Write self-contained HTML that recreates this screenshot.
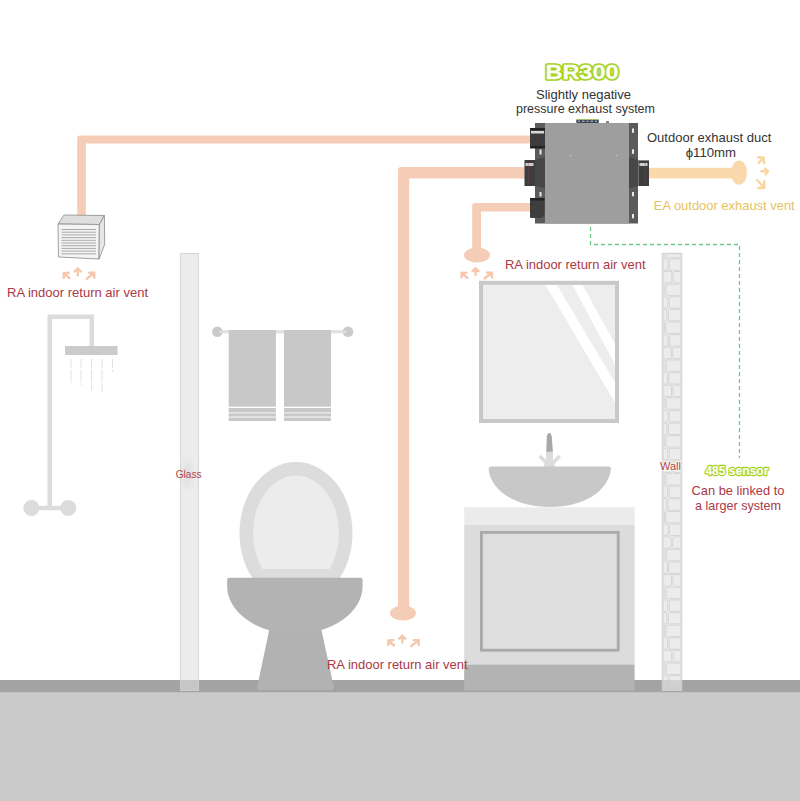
<!DOCTYPE html>
<html><head><meta charset="utf-8">
<style>
html,body{margin:0;padding:0;background:#fff;}
svg{display:block;}
text{font-family:"Liberation Sans",sans-serif;}
</style></head>
<body>
<svg width="800" height="801" viewBox="0 0 800 801">
<rect x="0" y="0" width="800" height="801" fill="#ffffff"/>
<!-- floor -->
<rect x="0" y="680" width="800" height="12.7" fill="#a3a3a3"/>
<rect x="0" y="692.7" width="800" height="108.3" fill="#c9cac9"/>

<!-- shower -->
<path d="M49.75 508 V316.75 H91.75 V346" fill="none" stroke="#dcdcdc" stroke-width="4.5"/>
<rect x="65" y="346" width="52.5" height="9" fill="#cbcbcb"/>
<g stroke="#e2e2e2" stroke-width="1" stroke-dasharray="9 1.5 12 1.5">
<line x1="71" y1="359" x2="71" y2="384"/>
<line x1="81" y1="359" x2="81" y2="385"/>
<line x1="91.5" y1="359" x2="91.5" y2="390"/>
<line x1="102" y1="359" x2="102" y2="392"/>
<line x1="112.5" y1="359" x2="112.5" y2="372"/>
</g>
<rect x="31" y="505.75" width="37" height="4.5" fill="#dcdcdc"/>
<circle cx="31.4" cy="508" r="8" fill="#dcdcdc"/>
<circle cx="68.3" cy="508" r="8" fill="#dcdcdc"/>

<!-- glass panel -->
<defs><radialGradient id="gsh" cx="0.5" cy="0.5" r="0.5"><stop offset="0" stop-color="#d8d8d8" stop-opacity="0.7"/><stop offset="1" stop-color="#d8d8d8" stop-opacity="0"/></radialGradient></defs>
<rect x="180.5" y="253.5" width="18" height="437" fill="#ebecec" stroke="#d6d6d6" stroke-width="1"/>
<ellipse cx="187" cy="474" rx="9" ry="18" fill="url(#gsh)"/>
<rect x="180.5" y="680" width="18" height="10.5" fill="#c6c6c6"/>

<!-- towel bar -->
<rect x="217" y="330.3" width="131" height="3" fill="#dcdcdc"/>
<circle cx="217.3" cy="331.8" r="5.3" fill="#cacaca"/>
<circle cx="348" cy="331.8" r="5.3" fill="#cacaca"/>
<rect x="219" y="330.8" width="127" height="2" fill="#e2e2e2"/>
<rect x="228.7" y="412" width="47.2" height="6" fill="#e4e4e4"/>
<rect x="284" y="412" width="47" height="6" fill="#e4e4e4"/>
<g fill="#c8c8c9">
<rect x="228.7" y="330" width="47.2" height="76.7"/>
<rect x="228.7" y="408" width="47.2" height="4"/>
<rect x="228.7" y="413.7" width="47.2" height="2.5"/>
<rect x="228.7" y="418" width="47.2" height="3"/>
<rect x="284" y="330" width="47" height="76.7"/>
<rect x="284" y="408" width="47" height="4"/>
<rect x="284" y="413.7" width="47" height="2.5"/>
<rect x="284" y="418" width="47" height="3"/>
</g>

<!-- toilet -->
<ellipse cx="296" cy="533" rx="56.5" ry="71" fill="#dcdcdc"/>
<clipPath id="lidclip"><rect x="240" y="460" width="120" height="109"/></clipPath>
<ellipse cx="296" cy="533" rx="43" ry="57.5" fill="#ececec" clip-path="url(#lidclip)"/>
<path d="M270 626 L320.6 626 L333.6 686 Q334.4 690.3 330.5 690.3 L260.5 690.3 Q256.6 690.3 257.4 686 Z" fill="#b2b2b2"/>
<path d="M227.1 586 A67.75 47.9 0 0 0 362.6 586 V580 Q362.6 577.8 360.4 577.8 H229.3 Q227.1 577.8 227.1 580 Z" fill="#b3b3b3"/>

<!-- big pipe (bottom RA) -->
<path d="M398 613 V170 Q398 167 401 167 H530 V178.6 H409.2 V613 Z" fill="#f5cdb6"/>
<ellipse cx="403" cy="613" rx="13" ry="7.5" fill="#f5cdb6"/>
<!-- left pipe -->
<path d="M77.2 217 V138.3 Q77.2 135.5 80 135.5 H531 V143.5 H85.8 V217 Q81.5 219 77.2 217 Z" fill="#f5cdb6"/>
<!-- small pipe -->
<path d="M472.2 255 V205.8 Q472.2 203 475 203 H531 V211.5 H481 V255 Z" fill="#f5cdb6"/>
<ellipse cx="477" cy="255" rx="13" ry="7.5" fill="#f5cdb6"/>
<!-- EA pipe -->
<rect x="645" y="167.8" width="94" height="10.6" fill="#f9d9ab"/>
<ellipse cx="739" cy="172.6" rx="8" ry="12.2" fill="#f9d9ab"/>

<!-- vent box -->
<polygon points="64,215 104.4,215.5 99.4,224.5 58,224" fill="#dedede" stroke="#8a8a8a" stroke-width="0.8"/>
<polygon points="58,224 99.4,224.5 99,259 58.5,257" fill="#f4f4f4" stroke="#8a8a8a" stroke-width="0.8"/>
<polygon points="99.4,224.5 104.4,215.5 104.7,244.5 99,259" fill="#e6e6e6" stroke="#8a8a8a" stroke-width="0.8"/>
<g stroke="#a8a8a8" stroke-width="1">
<line x1="61.5" y1="229.5" x2="96" y2="229.5"/>
<line x1="61.5" y1="232.2" x2="96" y2="232.2"/>
<line x1="61.5" y1="234.9" x2="96" y2="234.9"/>
<line x1="61.5" y1="237.6" x2="96" y2="237.6"/>
<line x1="61.5" y1="240.3" x2="96" y2="240.3"/>
<line x1="61.5" y1="243" x2="96" y2="243"/>
<line x1="61.5" y1="245.7" x2="96" y2="245.7"/>
<line x1="61.5" y1="248.4" x2="96" y2="248.4"/>
<line x1="61.5" y1="251.1" x2="96" y2="251.1"/>
<line x1="61.5" y1="253.8" x2="96" y2="253.8"/>
</g>

<!-- mirror -->
<rect x="481" y="282.8" width="136" height="138.2" fill="#ededed" stroke="#c8c8c8" stroke-width="4"/>
<polygon points="545.5,285 557,285 615,382.5 615,402.8" fill="#ffffff"/>
<polygon points="572.5,285 582.6,285 615,344 615,364.5" fill="#ffffff"/>

<!-- faucet -->
<line x1="539.8" y1="456" x2="546.5" y2="463" stroke="#dcdcdc" stroke-width="3.4"/>
<line x1="559.8" y1="456" x2="553" y2="463" stroke="#dcdcdc" stroke-width="3.4"/>
<polygon points="546,451.5 553,451.5 553,461 555.5,467 543.5,467 546,461" fill="#dcdcdc"/>
<path d="M546.2 451.7 L546.9 436 Q549.3 429.5 551.7 436 L552.9 451.7 Z" fill="#a8a8a8"/>
<!-- basin -->
<path d="M491 466.5 H609 Q611 466.5 611 469 C608 492 583 507 550 507 C517 507 491 492 488.6 469 Q488.6 466.5 491 466.5 Z" fill="#c8c8c8"/>
<!-- cabinet -->
<rect x="464.2" y="507.3" width="170.4" height="17.5" fill="#ebebeb"/>
<rect x="464.2" y="524.8" width="170.4" height="139.7" fill="#dcdcdc"/>
<rect x="481.4" y="532.4" width="136.8" height="117.8" fill="#dedede" stroke="#a9a9a9" stroke-width="2.8"/>
<rect x="464.2" y="664.5" width="170.4" height="26" fill="#b3b3b3"/>

<!-- brick wall -->
<g id="wall">
<rect x="662.2" y="253.2" width="19.6" height="437.4" fill="#f0f0f0" stroke="#cfcfcf" stroke-width="0.9"/>
<g fill="#ececec" stroke="#cdcdcd" stroke-width="0.75">
<rect x="663.1" y="253.8" width="1.7" height="3.9" rx="0.8"/>
<rect x="666.2" y="253.8" width="14.7" height="3.9" rx="0.8"/>
<rect x="663.1" y="258.9" width="4.7" height="11.4" rx="0.8"/>
<rect x="669.2" y="258.9" width="11.7" height="11.4" rx="0.8"/>
<rect x="663.1" y="271.5" width="8.7" height="11.4" rx="0.8"/>
<rect x="673.2" y="271.5" width="7.7" height="11.4" rx="0.8"/>
<rect x="663.1" y="284.2" width="1.7" height="11.4" rx="0.8"/>
<rect x="666.2" y="284.2" width="14.7" height="11.4" rx="0.8"/>
<rect x="663.1" y="296.8" width="4.7" height="11.4" rx="0.8"/>
<rect x="669.2" y="296.8" width="11.7" height="11.4" rx="0.8"/>
<rect x="663.1" y="309.4" width="3.7" height="11.4" rx="0.8"/>
<rect x="668.2" y="309.4" width="12.7" height="11.4" rx="0.8"/>
<rect x="663.1" y="322.1" width="1.4" height="11.4" rx="0.8"/>
<rect x="665.9" y="322.1" width="15.0" height="11.4" rx="0.8"/>
<rect x="663.1" y="334.7" width="4.9" height="11.4" rx="0.8"/>
<rect x="669.4" y="334.7" width="11.5" height="11.4" rx="0.8"/>
<rect x="663.1" y="347.3" width="8.2" height="11.4" rx="0.8"/>
<rect x="672.7" y="347.3" width="8.2" height="11.4" rx="0.8"/>
<rect x="663.1" y="359.9" width="1.9" height="11.4" rx="0.8"/>
<rect x="666.4" y="359.9" width="14.5" height="11.4" rx="0.8"/>
<rect x="663.1" y="372.6" width="4.4" height="11.4" rx="0.8"/>
<rect x="668.9" y="372.6" width="12.0" height="11.4" rx="0.8"/>
<rect x="663.1" y="385.2" width="8.4" height="11.4" rx="0.8"/>
<rect x="672.9" y="385.2" width="8.0" height="11.4" rx="0.8"/>
<rect x="663.1" y="397.8" width="1.7" height="11.4" rx="0.8"/>
<rect x="666.2" y="397.8" width="14.7" height="11.4" rx="0.8"/>
<rect x="663.1" y="410.5" width="4.7" height="11.4" rx="0.8"/>
<rect x="669.2" y="410.5" width="11.7" height="11.4" rx="0.8"/>
<rect x="663.1" y="423.1" width="3.9" height="11.4" rx="0.8"/>
<rect x="668.4" y="423.1" width="12.5" height="11.4" rx="0.8"/>
<rect x="663.1" y="435.7" width="1.6" height="11.4" rx="0.8"/>
<rect x="666.1" y="435.7" width="14.8" height="11.4" rx="0.8"/>
<rect x="663.1" y="448.4" width="4.6" height="11.4" rx="0.8"/>
<rect x="669.1" y="448.4" width="11.8" height="11.4" rx="0.8"/>
<rect x="663.1" y="461.0" width="8.6" height="11.4" rx="0.8"/>
<rect x="673.1" y="461.0" width="7.8" height="11.4" rx="0.8"/>
<rect x="663.1" y="473.6" width="1.7" height="11.4" rx="0.8"/>
<rect x="666.2" y="473.6" width="14.7" height="11.4" rx="0.8"/>
<rect x="663.1" y="486.2" width="4.7" height="11.4" rx="0.8"/>
<rect x="669.2" y="486.2" width="11.7" height="11.4" rx="0.8"/>
<rect x="663.1" y="498.9" width="3.7" height="11.4" rx="0.8"/>
<rect x="668.2" y="498.9" width="12.7" height="11.4" rx="0.8"/>
<rect x="663.1" y="511.5" width="1.4" height="11.4" rx="0.8"/>
<rect x="665.9" y="511.5" width="15.0" height="11.4" rx="0.8"/>
<rect x="663.1" y="524.1" width="4.9" height="11.4" rx="0.8"/>
<rect x="669.4" y="524.1" width="11.5" height="11.4" rx="0.8"/>
<rect x="663.1" y="536.8" width="8.2" height="11.4" rx="0.8"/>
<rect x="672.7" y="536.8" width="8.2" height="11.4" rx="0.8"/>
<rect x="663.1" y="549.4" width="1.9" height="11.4" rx="0.8"/>
<rect x="666.4" y="549.4" width="14.5" height="11.4" rx="0.8"/>
<rect x="663.1" y="562.0" width="4.4" height="11.4" rx="0.8"/>
<rect x="668.9" y="562.0" width="12.0" height="11.4" rx="0.8"/>
<rect x="663.1" y="574.6" width="8.4" height="11.4" rx="0.8"/>
<rect x="672.9" y="574.6" width="8.0" height="11.4" rx="0.8"/>
<rect x="663.1" y="587.3" width="1.7" height="11.4" rx="0.8"/>
<rect x="666.2" y="587.3" width="14.7" height="11.4" rx="0.8"/>
<rect x="663.1" y="599.9" width="4.7" height="11.4" rx="0.8"/>
<rect x="669.2" y="599.9" width="11.7" height="11.4" rx="0.8"/>
<rect x="663.1" y="612.5" width="3.9" height="11.4" rx="0.8"/>
<rect x="668.4" y="612.5" width="12.5" height="11.4" rx="0.8"/>
<rect x="663.1" y="625.2" width="1.6" height="11.4" rx="0.8"/>
<rect x="666.1" y="625.2" width="14.8" height="11.4" rx="0.8"/>
<rect x="663.1" y="637.8" width="4.6" height="11.4" rx="0.8"/>
<rect x="669.1" y="637.8" width="11.8" height="11.4" rx="0.8"/>
<rect x="663.1" y="650.4" width="8.6" height="11.4" rx="0.8"/>
<rect x="673.1" y="650.4" width="7.8" height="11.4" rx="0.8"/>
<rect x="663.1" y="663.1" width="1.7" height="11.4" rx="0.8"/>
<rect x="666.2" y="663.1" width="14.7" height="11.4" rx="0.8"/>
<rect x="663.1" y="675.7" width="4.7" height="11.4" rx="0.8"/>
<rect x="669.2" y="675.7" width="11.7" height="11.4" rx="0.8"/>
<rect x="663.1" y="688.3" width="3.7" height="1.9" rx="0.8"/>
<rect x="668.2" y="688.3" width="12.7" height="1.9" rx="0.8"/>
</g>
<rect x="662.2" y="680" width="19.6" height="10.6" fill="#c8c8c8" opacity="0.75"/>
</g>

<!-- green dashed -->
<path d="M590.5 227 V244.5 H739.5 V458" fill="none" stroke="#6ec987" stroke-width="1.3" stroke-dasharray="4 3"/>

<!-- device -->
<rect x="535" y="123" width="103" height="100.5" fill="#5b5b5b"/>
<rect x="545" y="123" width="84" height="100.5" fill="#9e9e9e"/>
<rect x="576.3" y="119.6" width="22.5" height="3.4" rx="0.8" fill="#3e4652"/>
<g fill="#9aa6b4"><rect x="578" y="120.6" width="2" height="1.4"/><rect x="582" y="120.6" width="2.5" height="1.4"/><rect x="586.5" y="120.6" width="2" height="1.4"/><rect x="590.5" y="120.6" width="2.5" height="1.4"/><rect x="595" y="120.6" width="2" height="1.4"/></g>
<rect x="576.3" y="119.2" width="22.5" height="0.7" fill="#a6cf50"/>
<rect x="606" y="121.4" width="3" height="1.3" fill="#444"/>
<!-- slots right -->
<g fill="#e8e8e8">
<rect x="632" y="128.5" width="2" height="4.3"/>
<rect x="632" y="149.3" width="2" height="4.5"/>
<rect x="632" y="192" width="2" height="4.3"/>
<rect x="632" y="214" width="2" height="4.3"/>
<rect x="539.5" y="149.5" width="2" height="5"/>
<rect x="539.5" y="192" width="2" height="4.5"/>
</g>
<!-- left connectors -->
<rect x="530" y="128" width="15" height="20.3" fill="#3c3c3c"/>
<rect x="531" y="131" width="13" height="2.5" fill="#d8d8d8"/>
<rect x="530" y="128" width="15" height="2" fill="#222"/>
<rect x="530" y="146" width="15" height="2.3" fill="#222"/>
<polygon points="535,160 545,157 545,188.5 535,186" fill="#474747"/>
<rect x="524.5" y="160" width="10.5" height="26" fill="#3d3d3d"/>
<rect x="525.5" y="163" width="8" height="3" fill="#cfcfcf"/>
<line x1="528.3" y1="162" x2="528.3" y2="184" stroke="#9a4a4a" stroke-width="0.4"/>
<path d="M530 198 H544.5 V213 Q544.5 218 539.5 218 H531 Q530 218 530 217 Z" fill="#3e3e3e"/>
<rect x="531" y="204" width="1.2" height="1.2" fill="#222"/><rect x="531" y="211" width="1.2" height="1.2" fill="#222"/>
<rect x="530" y="198" width="14.5" height="2.5" fill="#222"/>
<!-- right connector -->
<polygon points="629,157 638.5,160 638.5,186 629,188.5" fill="#474747"/>
<rect x="638.5" y="160.4" width="10.5" height="25.6" fill="#3d3d3d"/>
<rect x="639.5" y="163" width="8" height="3" fill="#cfcfcf"/>
<line x1="645.3" y1="162" x2="645.3" y2="184.5" stroke="#9a4a4a" stroke-width="0.4"/>
<circle cx="570.5" cy="155.5" r="0.8" fill="#c8c8c8"/>
<circle cx="616.5" cy="155.5" r="0.8" fill="#c8c8c8"/>

<!-- arrows -->
<g fill="none" stroke="#f5c8ad" stroke-width="2.4" stroke-linecap="round" stroke-linejoin="round">
<path d="M467.3 278 L461.6 273 M466.5 272.6 L461.6 273 L461.6 277.6"/>
<path d="M475.6 275 V268.3 M472.6 271.2 L475.6 268.3 L478.6 271.2"/>
<path d="M484.6 278.5 L492 272.6 M487 272.6 H492 V277.6"/>
</g>
<g transform="translate(-73.3 367.5)" fill="none" stroke="#f5c8ad" stroke-width="2.4" stroke-linecap="round" stroke-linejoin="round">
<path d="M467.3 278 L461.6 273 M466.5 272.6 L461.6 273 L461.6 277.6"/>
<path d="M475.6 275 V268.3 M472.6 271.2 L475.6 268.3 L478.6 271.2"/>
<path d="M484.6 278.5 L492 272.6 M487 272.6 H492 V277.6"/>
</g>
<g transform="translate(-397.8 0.2)" fill="none" stroke="#f5c8ad" stroke-width="2.4" stroke-linecap="round" stroke-linejoin="round">
<path d="M467.3 278 L461.6 273 M466.5 272.6 L461.6 273 L461.6 277.6"/>
<path d="M475.6 275 V268.3 M472.6 271.2 L475.6 268.3 L478.6 271.2"/>
<path d="M484.6 278.5 L492 272.6 M487 272.6 H492 V277.6"/>
</g>
<g fill="none" stroke="#f9d59f" stroke-width="2.4" stroke-linecap="round" stroke-linejoin="round">
<path d="M758.5 163 L763.5 157.7 M758.2 157.3 L763.5 157.7 L764 163"/>
<path d="M761.3 171.2 H768 M765.2 168.5 L768 171.3 L765.6 174.5"/>
<path d="M757.2 180 L764.2 188 M758.4 188 H764.2 V181.2"/>
</g>

<!-- texts -->
<text x="545.5" y="79.2" font-size="21" font-weight="bold" fill="#a3d11b" stroke="#a3d11b" stroke-width="3.6" stroke-linejoin="round" textLength="73" lengthAdjust="spacingAndGlyphs">BR300</text>
<text x="545.5" y="79.2" font-size="21" font-weight="bold" fill="#fbfdf4" stroke="#fbfdf4" stroke-width="0.3" textLength="73" lengthAdjust="spacingAndGlyphs">BR300</text>
<g fill="#333333" font-size="13">
<text x="536" y="99" textLength="95" lengthAdjust="spacingAndGlyphs">Slightly negative</text>
<text x="516" y="113.4" textLength="139" lengthAdjust="spacingAndGlyphs">pressure exhaust system</text>
<text x="647" y="141.9" textLength="124.3" lengthAdjust="spacingAndGlyphs">Outdoor exhaust duct</text>
<text x="685.7" y="156.5" textLength="50.3" lengthAdjust="spacingAndGlyphs">ϕ110mm</text>
</g>
<text x="653.8" y="210.3" font-size="13" fill="#e6c35e" textLength="140.9" lengthAdjust="spacingAndGlyphs">EA outdoor exhaust vent</text>
<g fill="#aa3846" font-size="13">
<text x="7" y="296.6" textLength="141" lengthAdjust="spacingAndGlyphs">RA indoor return air vent</text>
<text x="505" y="268.6" textLength="140.5" lengthAdjust="spacingAndGlyphs">RA indoor return air vent</text>
<text x="327" y="668.5" textLength="140.6" lengthAdjust="spacingAndGlyphs">RA indoor return air vent</text>
<text x="691.6" y="495.4" textLength="92.8" lengthAdjust="spacingAndGlyphs">Can be linked to</text>
<text x="695" y="510" textLength="86" lengthAdjust="spacingAndGlyphs">a larger system</text>
</g>
<text x="175.75" y="477.75" font-size="11" fill="#b0444c" textLength="25.85" lengthAdjust="spacingAndGlyphs">Glass</text>
<text x="660" y="470" font-size="11" fill="#b0444c" stroke="#ffffff" stroke-width="2" stroke-opacity="0.6" style="paint-order:stroke fill" textLength="21" lengthAdjust="spacingAndGlyphs">Wall</text>
<text x="705.4" y="474.6" font-size="12.8" font-weight="bold" fill="#a3d11b" stroke="#a3d11b" stroke-width="2.4" stroke-linejoin="round" textLength="63" lengthAdjust="spacingAndGlyphs">485 sensor</text>
<text x="705.4" y="474.6" font-size="12.8" font-weight="bold" fill="#fbfdf4" stroke="#fbfdf4" stroke-width="0.2" textLength="63" lengthAdjust="spacingAndGlyphs">485 sensor</text>
</svg>
</body></html>
